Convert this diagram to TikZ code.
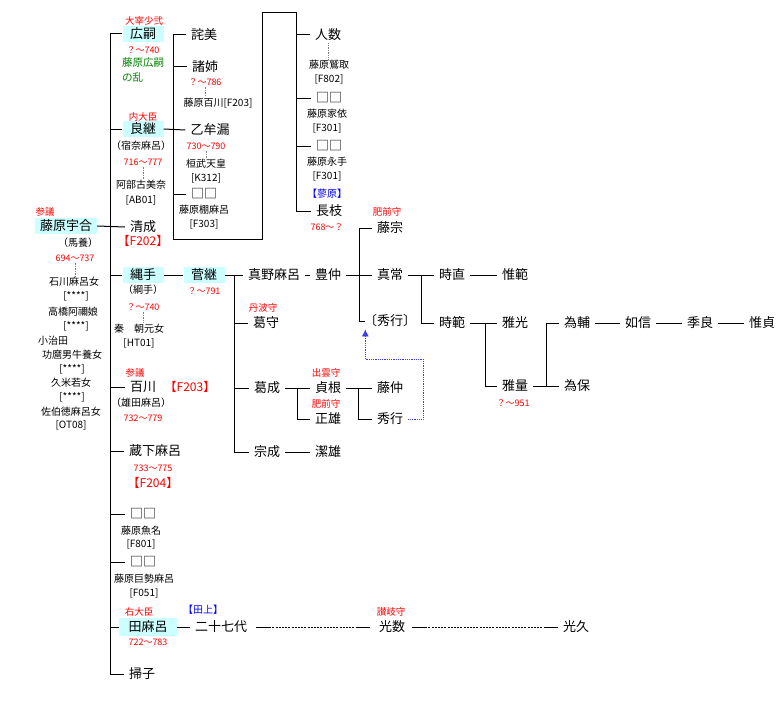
\documentclass[tikz,border=0pt]{standalone}
\usepackage{fontspec}
\setmainfont[RawFeature=+halt]{Noto Sans CJK JP}
\newfontfamily\fullwidth{Noto Sans CJK JP}
\usetikzlibrary{arrows.meta}
\definecolor{headbg}{RGB}{204,255,255}
\definecolor{rebelgreen}{RGB}{0,128,0}
\definecolor{xrefblue}{RGB}{60,60,235}

\begin{document}
\begin{tikzpicture}[x=1pt, y=-1pt,
  every node/.style={inner sep=1pt},
  person/.style={font=\fontsize{13}{15}\selectfont, inner xsep=5pt, inner ysep=2pt},
  heir/.style={person, fill=headbg, minimum width=41pt, minimum height=16pt},
  small/.style={font=\fontsize{10}{12}\selectfont},
  life/.style={font=\fontsize{9}{11}\selectfont, text=red},
  rank/.style={font=\fontsize{9.5}{11}\selectfont, text=red},
  fcode/.style={font=\fullwidth\fontsize{12}{14}\selectfont, text=red},
  house/.style={font=\fontsize{10}{12}\selectfont, text=blue},
  revolt/.style={font=\fontsize{10.5}{12}\selectfont, text=rebelgreen},
  kin/.style={line width=1pt},
  wed/.style={densely dotted, gray, line width=0.7pt},
  later/.style={line width=0.9pt, dash pattern=on 2pt off 1.2pt},
  xref/.style={densely dotted, xrefblue, line width=0.8pt, -{Latex[length=7pt,width=7pt]}}]
  \useasboundingbox (0,0) rectangle (782,701);

  % Umakai and wives
  \node [rank] (umakaiRank) at (45,212) {参議};
  \node [heir, minimum width=61pt] (umakai) at (66,226) {藤原宇合};
  \node [small] (umakaiAlias) at (78,243) {（馬養）};
  \node [life] (umakaiLife) at (75,258) {694～737};
  \node [small] (wifeA) at (74,282) {石川麻呂女};
  \node [small] (wifeAcode) at (76,296) {[****]};
  \node [small] (wifeB) at (73,312) {高橋阿禰娘};
  \node [small] (wifeBcode) at (76,326) {[****]};
  \node [small, anchor=west] (wifeC) at (37,341) {小治田};
  \node [small] (wifeCname) at (72,355) {功麿男牛養女};
  \node [small] (wifeCcode) at (72,369) {[****]};
  \node [small] (wifeD) at (71,383) {久米若女};
  \node [small] (wifeDcode) at (72,397) {[****]};
  \node [small] (wifeE) at (71,412) {佐伯徳麻呂女};
  \node [small] (wifeEcode) at (71,425) {[OT08]};
  \draw [wed] (umakaiLife.south) -- (umakaiLife.south |- wifeA.north);

  % Sons and daughters of Umakai
  \node [rank] (hirotsuguRank) at (144,21) {大宰少弐};
  \node [heir] (hirotsugu) at (143,34) {広嗣};
  \node [life] (hirotsuguLife) at (143,50) {？～740};
  \node [revolt] (hirotsuguRevolt) at (143,63) {藤原広嗣};
  \node [revolt, anchor=west] (hirotsuguRevoltB) at (121,77) {の乱};

  \node [rank] (yoshitsuguRank) at (143,117) {内大臣};
  \node [heir] (yoshitsugu) at (143,129) {良継};
  \node [small] (yoshitsuguAlias) at (141,146) {（宿奈麻呂）};
  \node [life] (yoshitsuguLife) at (143,162) {716～777};
  \node [small] (yoshitsuguWife) at (141,185) {阿部古美奈};
  \node [small] (yoshitsuguWifeCode) at (141,200) {[AB01]};
  \draw [wed] (yoshitsuguLife.south) -- (yoshitsuguLife.south |- yoshitsuguWife.north);

  \node [person] (kiyonari) at (143,227) {清成};
  \node [fcode] (kiyonariCode) at (143,241) {【F202】};

  \node [heir] (tsunade) at (143,275) {縄手};
  \node [small] (tsunadeAlias) at (143,290) {（綱手）};
  \node [life] (tsunadeLife) at (143,307) {？～740};
  \node [small] (tsunadeWife) at (139,329) {秦　朝元女};
  \node [small] (tsunadeWifeCode) at (139,343) {[HT01]};
  \draw [wed] (tsunadeLife.south) -- (tsunadeLife.south |- tsunadeWife.north);

  \node [rank] (momokawaRank) at (135,373) {参議};
  \node [person] (momokawa) at (143,387) {百川};
  \node [fcode] (momokawaCode) at (190,387) {【F203】};
  \node [small] (momokawaAlias) at (141,403) {（雄田麻呂）};
  \node [life] (momokawaLife) at (143,418) {732～779};

  \node [person] (kurajimaro) at (155,451) {蔵下麻呂};
  \node [life] (kurajimaroLife) at (153,468) {733～775};
  \node [fcode] (kurajimaroCode) at (153,483) {【F204】};

  \node [person] (childD) at (143,514) {□□};
  \node [small] (childDspouse) at (141,531) {藤原魚名};
  \node [small] (childDcode) at (141,544) {[F801]};
  \node [person] (childE) at (143,562) {□□};
  \node [small] (childEspouse) at (144,579) {藤原巨勢麻呂};
  \node [small] (childEcode) at (144,593) {[F051]};

  \node [rank] (tamaroRank) at (139,612) {右大臣};
  \node [heir, minimum width=58pt, minimum height=18pt] (tamaro) at (148,627) {田麻呂};
  \node [life] (tamaroLife) at (148,642) {722～783};
  \node [person] (soushi) at (142,674) {掃子};

  \coordinate (umakaiBus) at (110,0);
  \draw [kin] (hirotsugu.west) -- (hirotsugu.west -| umakaiBus)
    -- (soushi.west -| umakaiBus) -- (soushi.west);
  \foreach \kid in {yoshitsugu, tsunade, momokawa, kurajimaro, childD, childE, tamaro}
    \draw [kin] (\kid.west -| umakaiBus) -- (\kid.west);
  \draw [kin] (umakai.east) -- (kiyonari.west);

  % Children of Yoshitsugu
  \node [person] (takumi) at (204,35) {詫美};
  \node [person] (moroane) at (205,67) {諸姉};
  \node [life] (moroaneLife) at (205,82) {？～786};
  \node [small] (moroaneSpouse) at (218,103) {藤原百川[F203]};
  \draw [wed] (moroaneLife.south) -- (moroaneLife.south |- moroaneSpouse.north);
  \node [person] (otomuro) at (210,130) {乙牟漏};
  \node [life] (otomuroLife) at (206,146) {730～790};
  \node [small] (kanmu) at (206,164) {桓武天皇};
  \node [small] (kanmuCode) at (206,178) {[K312]};
  \draw [wed] (otomuroLife.south) -- (otomuroLife.south |- kanmu.north);
  \node [person] (childF) at (204,194) {□□};
  \node [small] (childFspouse) at (204,210) {藤原棚麻呂};
  \node [small] (childFcode) at (204,224) {[F303]};

  \node [person] (hitokazu) at (328,35) {人数};
  \node [small] (hitokazuSpouse) at (329,65) {藤原鷲取};
  \node [small] (hitokazuCode) at (329,79) {[F802]};
  \draw [wed] (hitokazu.south) -- (hitokazu.south |- hitokazuSpouse.north);
  \node [person] (childG) at (329,98) {□□};
  \node [small] (childGspouse) at (327,114) {藤原家依};
  \node [small] (childGcode) at (327,128) {[F301]};
  \node [person] (childH) at (329,146) {□□};
  \node [small] (childHspouse) at (327,162) {藤原永手};
  \node [small] (childHcode) at (327,176) {[F301]};
  \node [house] (nagaeHouse) at (327,194) {【蓼原】};
  \node [person] (nagae) at (329,211) {長枝};
  \node [life] (nagaeLife) at (327,227) {768～？};

  \coordinate (yoshiBus) at (173,0);
  \coordinate (loopLow) at (262,239);
  \coordinate (nagaeBus) at (296,13);
  \draw [kin] (yoshitsugu.east) -- (otomuro.west);
  \draw [kin] (takumi.west) -- (takumi.west -| yoshiBus) |- (loopLow) |- (nagaeBus)
    -- (nagaeBus |- nagae.west) -- (nagae.west);
  \foreach \kid in {moroane, childF}
    \draw [kin] (\kid.west -| yoshiBus) -- (\kid.west);
  \foreach \kid in {hitokazu, childG, childH}
    \draw [kin] (\kid.west -| nagaeBus) -- (\kid.west);

  % Sugatsugu line
  \node [heir] (sugatsugu) at (204,275) {菅継};
  \node [life] (sugatsuguLife) at (204,291) {？～791};
  \node [person] (manomaro) at (274,275) {真野麻呂};
  \node [rank] (kuzumoriRank) at (263,308) {丹波守};
  \node [person] (kuzumori) at (266,323) {葛守};
  \node [person] (kuzunari) at (267,388) {葛成};
  \node [person] (munenari) at (267,452) {宗成};
  \node [person] (kiyoo) at (328,452) {潔雄};

  \coordinate (sugaBus) at (234,0);
  \draw [kin] (tsunade.east) -- (sugatsugu.west);
  \draw [kin] (sugatsugu.east) -- (manomaro.west);
  \draw [kin] (sugatsugu.east -| sugaBus) -- (munenari.west -| sugaBus) -- (munenari.west);
  \foreach \kid in {kuzumori, kuzunari}
    \draw [kin] (\kid.west -| sugaBus) -- (\kid.west);
  \draw [kin] (munenari.east) -- (kiyoo.west);

  % Toyonaka and descendants
  \node [person] (toyonaka) at (328,275) {豊仲};
  \node [rank] (fujimuneRank) at (387,212) {肥前守};
  \node [person] (fujimune) at (390,228) {藤宗};
  \node [person] (masatsune) at (390,275) {真常};
  \node [person] (hideyukiX) at (390,321) {〔秀行〕};
  \node [person] (tokinao) at (452,275) {時直};
  \node [person] (korenori) at (515,275) {惟範};
  \node [person] (tokinori) at (452,323) {時範};
  \node [person] (masamitsu) at (515,323) {雅光};
  \node [person] (masakazu) at (515,386) {雅量};
  \node [life] (masakazuLife) at (513,403) {？～951};
  \node [person] (tamesuke) at (577,323) {為輔};
  \node [person] (tameyasu) at (577,386) {為保};
  \node [person] (yukinobu) at (638,323) {如信};
  \node [person] (sueyoshi) at (700,323) {季良};
  \node [person] (koresada) at (762,323) {惟貞};

  \draw [kin] (manomaro.east) -- (toyonaka.west);
  \draw [kin] (toyonaka.east) -- (masatsune.west);
  \coordinate (toyoBus) at (359,0);
  \draw [kin] (fujimune.west) -| (toyoBus |- hideyukiX.west) -- (hideyukiX.west);
  \draw [kin] (masatsune.east) -- (tokinao.west);
  \coordinate (tsuneBus) at (421,0);
  \draw [kin] (tsuneBus |- masatsune.east) |- (tokinori.west);
  \draw [kin] (tokinao.east) -- (korenori.west);
  \draw [kin] (tokinori.east) -- (masamitsu.west);
  \coordinate (noriBus) at (485,0);
  \draw [kin] (noriBus |- tokinori.east) |- (masakazu.west);
  \draw [kin] (masakazu.east) -- (tameyasu.west);
  \coordinate (kazuBus) at (546,0);
  \draw [kin] (kazuBus |- masakazu.east) |- (tamesuke.west);
  \draw [kin] (tamesuke.east) -- (yukinobu.west);
  \draw [kin] (yukinobu.east) -- (sueyoshi.west);
  \draw [kin] (sueyoshi.east) -- (koresada.west);

  % Kuzunari and descendants
  \node [rank] (sadaneRank) at (326,373) {出雲守};
  \node [person] (sadane) at (328,388) {貞根};
  \node [rank] (masaoRank) at (326,404) {肥前守};
  \node [person] (masao) at (328,419) {正雄};
  \node [person] (fujinaka) at (390,388) {藤仲};
  \node [person] (hideyuki) at (390,419) {秀行};

  \draw [kin] (kuzunari.east) -- (sadane.west);
  \coordinate (nariBus) at (297,0);
  \draw [kin] (nariBus |- kuzunari.east) |- (masao.west);
  \draw [kin] (sadane.east) -- (fujinaka.west);
  \coordinate (saneBus) at (358,0);
  \draw [kin] (saneBus |- sadane.east) |- (hideyuki.west);

  % Cross reference
  \coordinate (xrefTurn) at (423,359);
  \draw [xref] (hideyuki.east) -| (xrefTurn) -| (hideyukiX.south west);

  % Tamaro and later line
  \node [house] (tamaroHouse) at (203,610) {【田上】};
  \node [person] (nijushichi) at (221,627) {二十七代};
  \node [rank] (mitsukazuRank) at (391,612) {讃岐守};
  \node [person] (mitsukazu) at (392,627) {光数};
  \node [person] (mitsuhisa) at (576,627) {光久};

  \draw [kin] (tamaro.east) -- (nijushichi.west);
  \draw [kin] ([xshift=4pt]nijushichi.east) -- ++(13,0) coordinate (laterA);
  \draw [kin] ([xshift=-4pt]mitsukazu.west) -- ++(-14,0) coordinate (laterB);
  \draw [later] (laterA) -- (laterB);
  \draw [kin] ([xshift=2pt]mitsukazu.east) -- ++(13,0) coordinate (laterC);
  \draw [kin] (mitsuhisa.west) -- ++(-13,0) coordinate (laterD);
  \draw [later] (laterC) -- (laterD);
\end{tikzpicture}
\end{document}
